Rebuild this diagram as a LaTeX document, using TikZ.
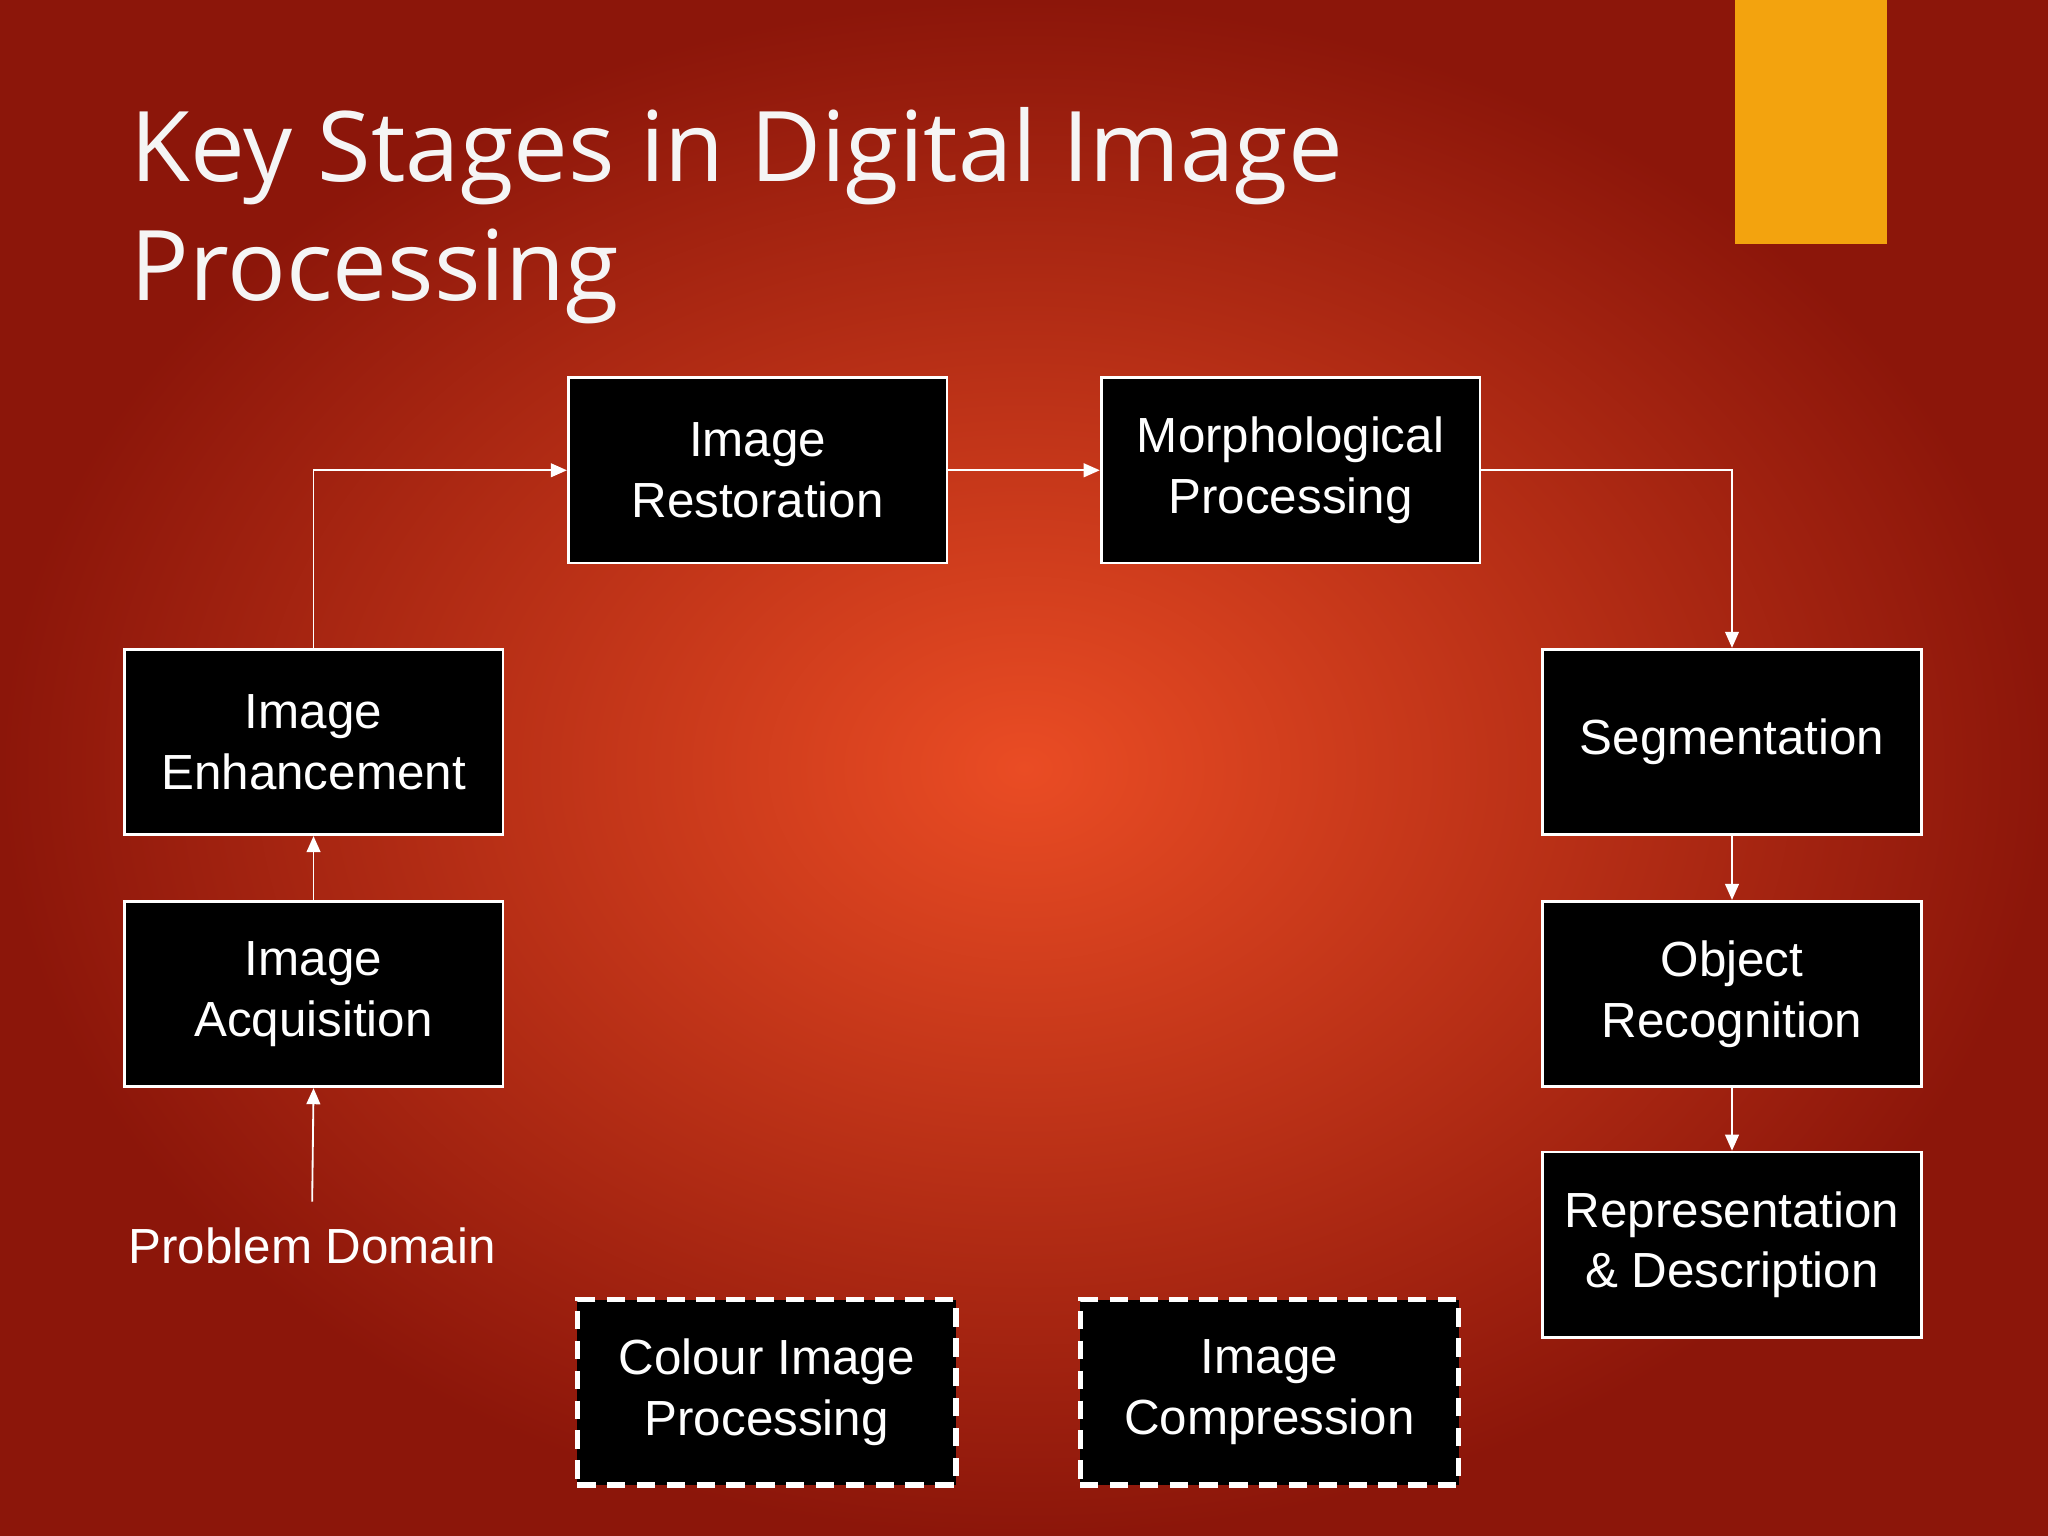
\documentclass[tikz,border=0pt]{standalone}
\usepackage{fontspec}
\setmainfont{Liberation Sans}
\newfontfamily\titlefont{Open Sans}
\usetikzlibrary{arrows.meta,shadings}
\begin{document}
\begin{tikzpicture}[x=0.02cm,y=-0.02cm,
  stage/.style={draw=white,line width=1.2pt,fill=black,text=white,minimum width=290*0.02cm,minimum height=142*0.02cm,align=center,font=\fontsize{21.5}{26.5}\selectfont,anchor=north west,inner sep=0pt},
  opt/.style={stage,dashed,dash pattern=on 8pt off 5pt,line width=2.2pt},
  conn/.style={draw=white,line width=0.8pt,-{Triangle[length=7pt,width=6pt]}}]
\useasboundingbox (0,0) rectangle (1568,1176);
\shade[inner color={rgb,255:red,234;green,76;blue,36},outer color={rgb,255:red,140;green,22;blue,10}] (0,0) rectangle (1568,1176);
\fill[fill={rgb,255:red,243;green,163;blue,14}] (1328,0) rectangle (1445,187);
\node[anchor=west,text=white!92!gray,font=\titlefont\fontsize{42.5}{52}\selectfont,align=left] (title) at (94,165) {Key Stages in Digital Image\\Processing};
\node[stage] (rest) at (434,288) {Image\\Restoration};
\node[stage] (morph) at (842,288) {Morphological\\Processing};
\node[stage] (enh) at (94,496) {Image\\Enhancement};
\node[stage] (seg) at (1180,496) {Segmentation};
\node[stage] (acq) at (94,689) {Image\\Acquisition};
\node[stage] (obj) at (1180,689) {Object\\Recognition};
\node[stage] (rep) at (1180,881) {Representation\\\& Description};
\node[opt] (col) at (440,993) {Colour Image\\Processing};
\node[opt] (comp) at (825,993) {Image\\Compression};
\node[text=white,font=\fontsize{21.5}{26}\selectfont] (pd) at (239,954) {Problem Domain};
\coordinate (pdtop) at (239,920);
\draw[conn] (pdtop) -- (acq.south);
\draw[conn] (acq.north) -- (enh.south);
\draw[conn] (enh.north) |- (rest.west);
\draw[conn] (rest.east) -- (morph.west);
\draw[conn] (morph.east) -| (seg.north);
\draw[conn] (seg.south) -- (obj.north);
\draw[conn] (obj.south) -- (rep.north);
\end{tikzpicture}
\end{document}
